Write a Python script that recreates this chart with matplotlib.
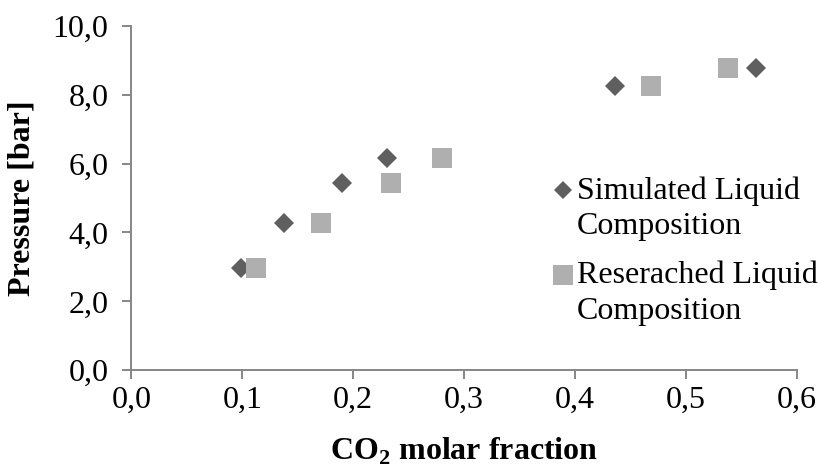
import matplotlib
matplotlib.use("Agg")
import matplotlib.pyplot as plt
from matplotlib.ticker import FixedLocator, FuncFormatter

plt.rcParams["font.family"] = ["Liberation Serif", "DejaVu Serif"]
plt.rcParams["mathtext.fontset"] = "custom"
plt.rcParams["mathtext.rm"] = "Liberation Serif"
plt.rcParams["mathtext.bf"] = "Liberation Serif:bold"

# CO2 molar fraction vs pressure
sim_x = [0.099, 0.138, 0.190, 0.231, 0.436, 0.563]
sim_p = [2.97, 4.28, 5.43, 6.17, 8.25, 8.78]
res_x = [0.112, 0.171, 0.234, 0.280, 0.469, 0.538]
res_p = [2.97, 4.28, 5.43, 6.17, 8.25, 8.78]

sim_label = ["Simulated Liquid", "Composition"]
res_label = ["Reserached Liquid", "Composition"]

x_ticks = [0.0, 0.1, 0.2, 0.3, 0.4, 0.5, 0.6]
y_ticks = [0.0, 2.0, 4.0, 6.0, 8.0, 10.0]

W, H = 821, 470
X0, X1, Y0, Y1 = 131.3, 796.7, 370.3, 25.7
fig = plt.figure(figsize=(W / 100, H / 100), dpi=100)
ax = fig.add_axes([X0 / W, 1 - Y0 / H, (X1 - X0) / W, (Y0 - Y1) / H])

dark = "#5f5f5f"
light = "#afafaf"
axis_col = "#868686"
fs = 23

ax.plot(sim_x, sim_p, linestyle="none", marker="D", markersize=10.2,
        color=dark, markeredgewidth=0, clip_on=False, zorder=3)
ax.plot(res_x, res_p, linestyle="none", marker="s", markersize=14.4,
        color=light, markeredgewidth=0, clip_on=False, zorder=4)

ax.set_xlim(0, 0.6)
ax.set_ylim(0, 10)
ax.xaxis.set_major_locator(FixedLocator(x_ticks))
ax.yaxis.set_major_locator(FixedLocator(y_ticks))
comma = FuncFormatter(lambda v, pos: f"{v:.1f}".replace(".", ","))
ax.xaxis.set_major_formatter(comma)
ax.yaxis.set_major_formatter(comma)

for side in ("top", "right"):
    ax.spines[side].set_visible(False)
for side in ("left", "bottom"):
    ax.spines[side].set_color(axis_col)
    ax.spines[side].set_linewidth(1.4)

ax.tick_params(axis="both", direction="out", length=6.5, width=1.4,
               color=axis_col, labelsize=fs, labelcolor="black")
ax.tick_params(axis="y", pad=10)
ax.tick_params(axis="x", pad=5)

ax.set_xlabel(r"CO$_{\mathbf{2}}$ molar fraction", fontsize=fs, fontweight="bold")
ax.xaxis.set_label_coords(0.5, (Y0 - 451) / (Y0 - Y1))
ax.xaxis.label.set_va("center")
ax.set_ylabel("Pressure [bar]", fontsize=fs, fontweight="bold")
ax.yaxis.set_label_coords((22.5 - X0) / (X1 - X0), 0.5)
ax.yaxis.label.set_va("center")

# legend drawn in axes coordinates
def ax_xy(px, py):
    return (px - X0) / (X1 - X0), (Y0 - py) / (Y0 - Y1)

entries = [("D", 9.6, dark, sim_label, 190, (198.5, 234.5)),
           ("s", 14.0, light, res_label, 275, (283.0, 319.0))]
for mk, ms, col, lines, py, baselines in entries:
    mx, my = ax_xy(563.3, py)
    ax.plot([mx], [my], marker=mk, markersize=ms, color=col, markeredgewidth=0,
            linestyle="none", transform=ax.transAxes, clip_on=False, zorder=5)
    for line, by in zip(lines, baselines):
        tx, ty = ax_xy(576.5, by)
        ax.text(tx, ty, line, transform=ax.transAxes, fontsize=fs,
                ha="left", va="baseline")

fig.savefig("out.png", dpi=100)
